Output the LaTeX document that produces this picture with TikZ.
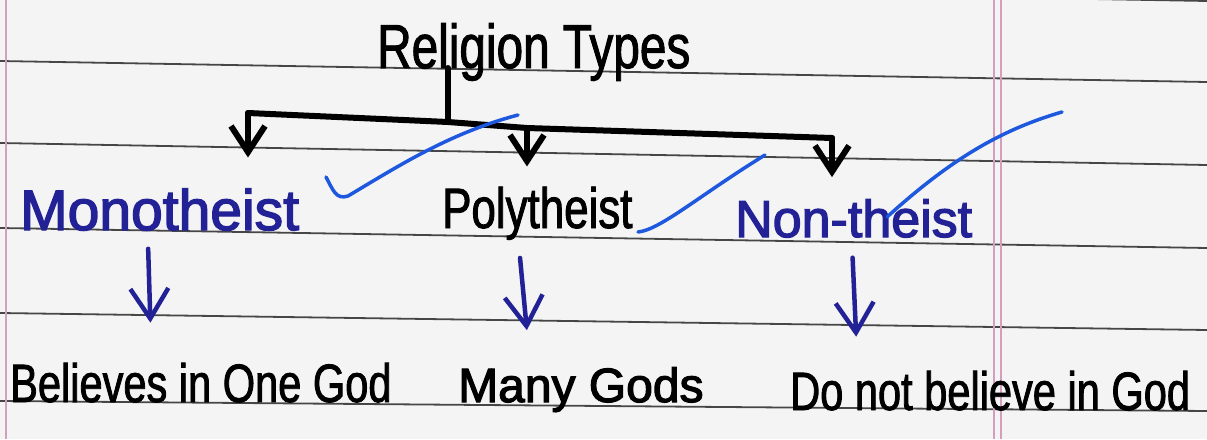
\documentclass[tikz,border=0pt]{standalone}
\usepackage{fontspec}
\setmainfont{Liberation Sans}
\newfontfamily\handfont[FakeStretch=0.77,FakeBold=1.5]{Liberation Sans}
\newfontfamily\handwide[FakeBold=2.5]{Liberation Sans}
\usetikzlibrary{arrows.meta}
\definecolor{ink}{RGB}{34,34,150}
\definecolor{tickblue}{RGB}{30,88,222}
\definecolor{rulegray}{RGB}{70,70,70}
\definecolor{margin}{RGB}{210,160,190}
\definecolor{paper}{RGB}{245,244,245}

\tikzset{
  word/.style={inner sep=0pt, anchor=base west},
  tree/.style={line width=6pt, line cap=round, line join=round},
  treetip/.style={-{Straight Barb[length=26pt,width=34pt]}},
  down/.style={draw=ink, line width=4.5pt, line cap=round, line join=round,
    -{Straight Barb[length=30pt,width=38pt]}},
  tickmark/.style={draw=tickblue, line width=3.5pt, line cap=round}
}

\begin{document}
\begin{tikzpicture}[x=1pt, y=-1pt]
    		% Paper, rules and margins:
    		\useasboundingbox (0,0) rectangle (1207,439);
    		\fill[paper] (0,0) rectangle (1207,439);
    		\foreach \l/\r in {-20/1, 61/82, 143/165, 228/248, 313/330, 401/411}
    		  \draw[rulegray, line width=1.8pt] (0,\l) -- (1207,\r);
    		\foreach \m in {6, 994, 1001}
    		  \draw[margin, line width=1.2pt] (\m,0) -- (\m,439);
    		% Words:
    		\node[word, font=\handfont\fontsize{62}{62}\selectfont] (title) at (377,68) {Religion Types};
    		\node[word, text=ink, font=\handwide\fontsize{57}{57}\selectfont] (mono) at (20,230) {Monotheist};
    		\node[word, font=\handfont\fontsize{57}{57}\selectfont] (poly) at (442,228) {Polytheist};
    		\node[word, text=ink, font=\handwide\fontsize{52}{52}\selectfont] (non) at (735,237) {Non-theist};
    		\node[word, font=\handfont\fontsize{54}{54}\selectfont] (one) at (10,402) {Believes in One God};
    		\node[word, font=\handwide\fontsize{48}{48}\selectfont] (many) at (458,402) {Many Gods};
    		\node[word, font=\handfont\fontsize{54}{54}\selectfont] (none) at (790,410) {Do not believe in God};
    		% Tree:
    		\coordinate (barL) at (248,113);
    		\coordinate (barJ) at (448,122);
    		\coordinate (barM) at (527,128);
    		\coordinate (barR) at (832,138);
    		\draw[tree] (barJ |- title.base) -- (barJ);
    		\draw[tree] (barL) -- (barJ) -- (barM) -- (barR);
    		\draw[tree, treetip, shorten >=31pt] (barL) -- (barL |- mono.north);
    		\draw[tree, treetip, shorten >=20pt] (barM) -- (barM |- poly.north);
    		\draw[tree, treetip, shorten >=22pt] (barR) -- (barR |- non.north);
    		% Down arrows:
    		\draw[down, shorten <=18pt, shorten >=40pt] ([xshift=-12pt]mono.south) -- ([xshift=-8pt]mono.south |- one.north);
    		\draw[down, shorten <=18pt, shorten >=37pt] ([xshift=-19pt]poly.south) -- ([xshift=-7pt]poly.south |- many.north);
    		\draw[down, shorten <=20pt, shorten >=34pt] ([xshift=-2pt]non.south) -- ([xshift=4pt]non.south |- none.north);
    		% Ticks:
    		\draw[tickmark] (326,177) .. controls (333,190) and (336,200) .. (348,196) .. controls (400,165) and (450,133) .. (518,115);
    		\draw[tickmark] (638,232) .. controls (660,230) and (700,195) .. (765,155);
    		\draw[tickmark] (887,217) .. controls (950,160) and (1000,130) .. (1062,112);
    	\end{tikzpicture}
\end{document}
